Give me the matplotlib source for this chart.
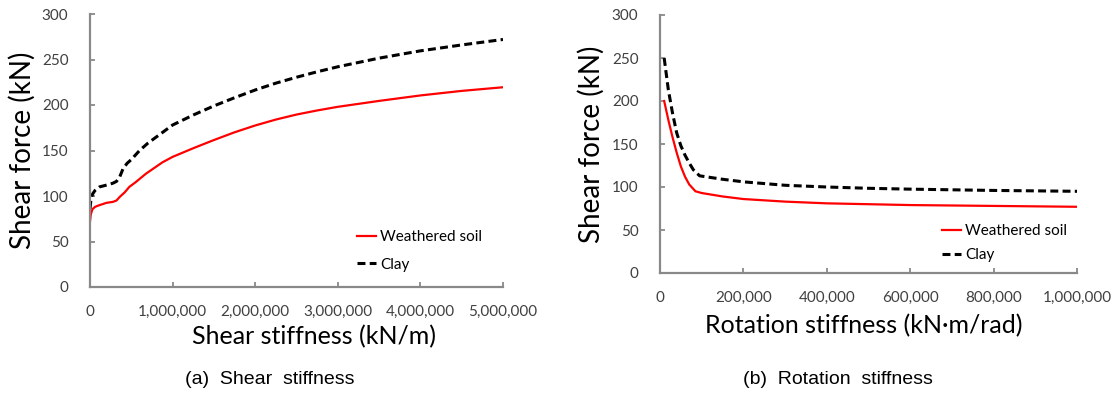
import matplotlib
matplotlib.use("Agg")
import matplotlib.pyplot as plt
from matplotlib.ticker import FuncFormatter

# ---- data: (a) shear stiffness ----
shear_k = [0, 10000, 30000, 60000, 100000, 200000, 275000, 320000, 360000, 420000,
           476000, 550000, 677000, 877000, 1000000, 1250000, 1500000, 1750000,
           2000000, 2250000, 2500000, 2750000, 3000000, 3500000, 4000000, 4500000,
           5000000]
shear_weathered = [72, 80, 85.5, 88, 89.5, 92.5, 93.5, 95, 99, 104, 110, 115, 124.5,
                   137, 143, 152.5, 161.5, 170, 177.5, 184, 189.5, 194, 198, 204.5,
                   210.5, 215.5, 219.5]
shear_k_clay = [0, 10000, 30000, 60000, 115000, 200000, 275000, 320000, 360000, 400000,
                450000, 500000, 600000, 700000, 850000, 1000000, 1250000, 1500000,
                1750000, 2000000, 2250000, 2500000, 2750000, 3000000, 3500000, 4000000,
                4500000, 5000000]
shear_clay = [86, 95, 102, 106, 110, 112, 114, 116, 121, 130, 136, 140, 150, 158, 168,
              178, 189, 199, 208, 216.5, 224, 230.5, 236.5, 242, 251.5, 259.5, 266, 272]

# ---- data: (b) rotation stiffness ----
rot_k_ws = [10000, 20000, 30000, 40000, 50000, 60000, 70000, 85000, 100000, 150000,
            200000, 300000, 400000, 500000, 600000, 800000, 1000000]
rot_weathered = [200, 178, 158, 140, 124, 112, 103, 95, 93, 89, 86, 83, 81, 80, 79, 78, 77]
rot_k_clay = [10000, 20000, 30000, 40000, 50000, 60000, 70000, 80000, 95000, 150000,
              200000, 300000, 400000, 500000, 600000, 800000, 1000000]
rot_clay = [250, 213, 186, 163, 148, 137, 128, 120, 113, 109, 106, 102, 100, 98.5,
            97.5, 96, 95]

series_labels = ["Weathered soil", "Clay"]
captions = ["(a)  Shear  stiffness", "(b)  Rotation  stiffness"]

W, H = 1119, 395
fig = plt.figure(figsize=(W / 100, H / 100), dpi=100)

FONT = "Lato"
spine_c = "#898989"
text_c = "#404040"
RED = "#ff0000"
DASH = (0, (2.6, 1.4))


def px_axes(x0, x1, ytop, ybot):
    return fig.add_axes([x0 / W, 1 - ybot / H, (x1 - x0) / W, (ybot - ytop) / H])


comma = FuncFormatter(lambda v, p: f"{int(v):,}")


def style(ax):
    for s in ["top", "right"]:
        ax.spines[s].set_visible(False)
    for s in ["left", "bottom"]:
        ax.spines[s].set_color(spine_c)
        ax.spines[s].set_linewidth(1.6)
    ax.tick_params(direction="in", length=3.5, width=1.3, color=spine_c,
                   labelsize=11, labelcolor=text_c)
    ax.tick_params(axis="x", pad=13)
    ax.tick_params(axis="y", pad=15.5)
    ax.set_ylim(0, 300)
    ax.set_yticks(range(0, 301, 50))
    ax.xaxis.set_major_formatter(comma)
    for lab in ax.get_xticklabels() + ax.get_yticklabels():
        lab.set_fontfamily(FONT)


def place_labels(ax, x0, x1, ytop, ybot, xl_c, xl_y, yl_x):
    w = x1 - x0
    h = ybot - ytop
    ax.xaxis.set_label_coords((xl_c - x0) / w, (ybot - xl_y) / h)
    ax.xaxis.label.set_va("center")
    ax.yaxis.set_label_coords((yl_x - x0) / w, 0.5)
    ax.yaxis.label.set_va("center")
    ax.yaxis.label.set_ha("center")


def add_legend(ax, x_left, y_top, spacing):
    ax.legend(loc="upper left", bbox_to_anchor=(x_left / W, 1 - y_top / H),
              bbox_transform=fig.transFigure, frameon=False,
              prop={"family": FONT, "size": 11}, handlelength=1.3,
              handletextpad=0.25, labelspacing=spacing, borderpad=0,
              borderaxespad=0)


# ---- (a) ----
A = (90, 503, 14, 287)
ax1 = px_axes(*A)
ax1.plot(shear_k, shear_weathered, color=RED, lw=1.6, label=series_labels[0])
ax1.plot(shear_k_clay, shear_clay, color="black", lw=2.2, ls=DASH, label=series_labels[1])
ax1.set_xlim(0, 5000000)
ax1.set_xticks(range(0, 5000001, 1000000))
style(ax1)
ax1.set_xlabel("Shear stiffness (kN/m)", fontsize=18, family=FONT, color="black")
ax1.set_ylabel("Shear force (kN)", fontsize=20, family=FONT, color="black")
place_labels(ax1, *A, xl_c=314, xl_y=336.5, yl_x=22.5)
add_legend(ax1, 356.5, 230, 0.9)

# ---- (b) ----
B = (660, 1077, 15, 273)
ax2 = px_axes(*B)
ax2.plot(rot_k_ws, rot_weathered, color=RED, lw=1.6, label=series_labels[0])
ax2.plot(rot_k_clay, rot_clay, color="black", lw=2.2, ls=DASH, label=series_labels[1])
ax2.set_xlim(0, 1000000)
ax2.set_xticks(range(0, 1000001, 200000))
style(ax2)
ax2.set_xlabel("Rotation stiffness (kN\u00b7m/rad)", fontsize=18, family=FONT, color="black")
ax2.set_ylabel("Shear force (kN)", fontsize=20, family=FONT, color="black")
place_labels(ax2, *B, xl_c=863.5, xl_y=325.5, yl_x=591.5)
add_legend(ax2, 941.5, 224, 0.68)

fig.text(270 / W, 1 - 380 / H, captions[0], ha="center", va="center",
         fontsize=14, family="Liberation Sans", color="black")
fig.text(838 / W, 1 - 380 / H, captions[1], ha="center", va="center",
         fontsize=14, family="Liberation Sans", color="black")

fig.savefig("out.png", dpi=100)
